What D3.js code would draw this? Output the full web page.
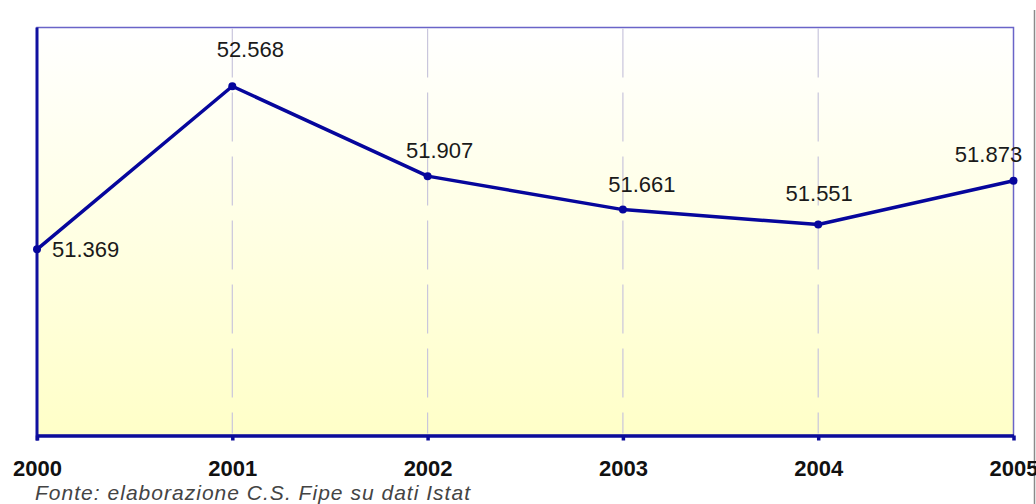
<!DOCTYPE html>
<html>
<head>
<meta charset="utf-8">
<script src="https://cdn.jsdelivr.net/npm/d3@7"></script>
<style>
  body { margin: 0; background: #fff; }
  svg { display: block; }
</style>
</head>
<body>
<div id="chart"></div>
<script>
// data
const years = ["2000", "2001", "2002", "2003", "2004", "2005"];
const values = [51.369, 52.568, 51.907, 51.661, 51.551, 51.873];
const valueLabels = ["51.369", "52.568", "51.907", "51.661", "51.551", "51.873"];
const sourceNote = "Fonte: elaborazione C.S. Fipe su dati Istat";

// label placement, like the spreadsheet did it (dx, dy from the point, anchor)
const labelPlace = [
  [15, 8, "start"], [18, -29, "middle"], [12, -18, "middle"],
  [19, -18, "middle"], [1, -24, "middle"], [-25, -19, "middle"]
];

const width = 1036, height = 504;
const plot = { left: 37, right: 1013.5, top: 27.5, bottom: 435.5 };

const svg = d3.select("#chart").append("svg")
  .attr("width", width)
  .attr("height", height);

const defs = svg.append("defs");
const grad = defs.append("linearGradient")
  .attr("id", "bg").attr("x1", 0).attr("y1", 0).attr("x2", 0).attr("y2", 1);
grad.append("stop").attr("offset", "0%").attr("stop-color", "#ffffff");
grad.append("stop").attr("offset", "100%").attr("stop-color", "#ffffc8");

const x = d3.scalePoint()
  .domain(years)
  .range([plot.left, plot.right]);

const y = d3.scaleLinear()
  .domain([50, 53])
  .range([plot.bottom, plot.top]);

// plot background + frame
svg.append("rect")
  .attr("x", plot.left).attr("y", plot.top)
  .attr("width", plot.right - plot.left)
  .attr("height", plot.bottom - plot.top)
  .style("fill", "url(#bg)")
  .style("stroke", "#6a64c8")
  .style("stroke-width", 1.5);

// outer chart edge on the right
svg.append("line")
  .attr("x1", 1034.5).attr("x2", 1034.5)
  .attr("y1", 10).attr("y2", height)
  .style("stroke", "#8a8a8a")
  .style("stroke-width", 1.5);

// dashed vertical grid
svg.append("g")
  .selectAll("line")
  .data(years.slice(1, -1))
  .join("line")
  .attr("x1", d => x(d)).attr("x2", d => x(d))
  .attr("y1", plot.top + 1).attr("y2", plot.bottom - 2)
  .style("stroke", "#c9c6dc")
  .style("stroke-width", 1.2)
  .style("stroke-dasharray", "49,15");

// left axis line
svg.append("line")
  .attr("x1", plot.left).attr("x2", plot.left)
  .attr("y1", plot.top).attr("y2", plot.bottom + 5)
  .style("stroke", "#1010a0")
  .style("stroke-width", 3);

// x axis
const xAxis = svg.append("g")
  .attr("transform", `translate(0,${plot.bottom})`)
  .call(d3.axisBottom(x).tickSize(5).tickSizeOuter(0).tickPadding(20));
xAxis.select(".domain")
  .style("stroke", "#0c0c9a")
  .style("stroke-width", 3.5);
xAxis.selectAll(".tick line")
  .style("stroke", "#0c0c9a")
  .style("stroke-width", 3.5);
xAxis.selectAll(".tick text")
  .style("font-family", "Arial, 'Liberation Sans', sans-serif")
  .style("font-size", "22px")
  .style("font-weight", "bold")
  .style("fill", "#111");

// the series line
const line = d3.line()
  .x((d, i) => x(years[i]))
  .y(d => y(d));

svg.append("path")
  .datum(values)
  .attr("d", line)
  .style("fill", "none")
  .style("stroke", "#06069c")
  .style("stroke-width", 3.5)
  .style("stroke-linejoin", "round");

svg.append("g")
  .selectAll("circle")
  .data(values)
  .join("circle")
  .attr("cx", (d, i) => x(years[i]))
  .attr("cy", d => y(d))
  .attr("r", 4)
  .style("fill", "#06069c");

// value labels
svg.append("g")
  .selectAll("text")
  .data(values)
  .join("text")
  .attr("x", (d, i) => x(years[i]) + labelPlace[i][0])
  .attr("y", (d, i) => y(d) + labelPlace[i][1])
  .attr("text-anchor", (d, i) => labelPlace[i][2])
  .text((d, i) => valueLabels[i])
  .style("font-family", "Arial, 'Liberation Sans', sans-serif")
  .style("font-size", "22px")
  .style("fill", "#1a1a1a");

// source note
svg.append("text")
  .attr("x", 35)
  .attr("y", 500)
  .attr("textLength", 435)
  .attr("lengthAdjust", "spacing")
  .text(sourceNote)
  .style("font-family", "Arial, 'Liberation Sans', sans-serif")
  .style("font-size", "21px")
  .style("font-style", "italic")
  .style("fill", "#444");
</script>
</body>
</html>
